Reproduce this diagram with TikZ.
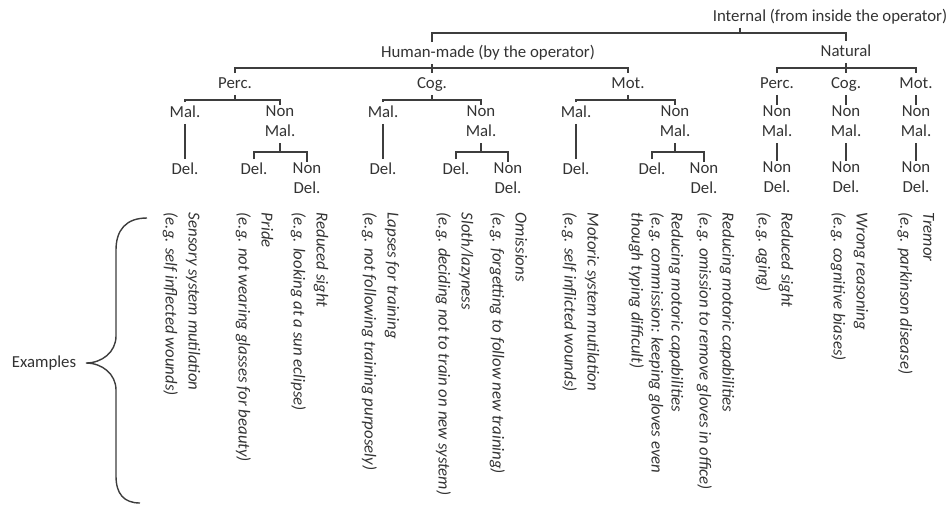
\documentclass[tikz,border=0pt]{standalone}
\usepackage{fontspec}
\setmainfont{Carlito}
\usepackage{tikz}

\definecolor{inkgray}{HTML}{333333}
\definecolor{linegray}{HTML}{3d3d3d}
\newcommand{\treefont}{\fontsize{16.8}{20}\selectfont}
\newcommand{\egfont}{\fontsize{16.8}{23}\selectfont\itshape}

\tikzset{
    lbl/.style = {font=\treefont, text=inkgray, inner sep=0pt, align=center,
        execute at begin node=\strut, execute at end node=\strut},
    eg/.style = {font=\egfont, text=inkgray, inner sep=0pt, align=left,
        rotate=-90, anchor=north west, execute at begin node=\strut},
}

\begin{document}
\begin{tikzpicture}[x=1pt, y=-1pt, node distance = 57pt, line width=1.6pt, color=linegray]
    \useasboundingbox (0,0) rectangle (952,504);

    % top of the tree
    \node (internal) [lbl] at (830,17) {Internal (from inside the operator)};
    \node (human) [lbl] at (488,53) {Human-made (by the operator)};
    \node (natural) [lbl] at (846,52) {Natural};

    \node (perc1) [lbl] at (235,84) {Perc.};
    \node (cog1) [lbl] at (432,84) {Cog.};
    \node (mot1) [lbl] at (628,84) {Mot.};
    \node (perc2) [lbl] at (777,84) {Perc.};
    \node (cog2) [lbl] at (846,84) {Cog.};
    \node (mot2) [lbl] at (916,84) {Mot.};

    \node (mal1) [lbl] at (185,113) {Mal.};
    \node (nmal1) [lbl] at (280,124) {Non\\Mal.};
    \node (mal2) [lbl] at (383,113) {Mal.};
    \node (nmal2) [lbl] at (481,124) {Non\\Mal.};
    \node (mal3) [lbl] at (576,113) {Mal.};
    \node (nmal3) [lbl] at (675,124) {Non\\Mal.};
    \node (nmal4) [lbl] at (777,124) {Non\\Mal.};
    \node (nmal5) [lbl] at (846,124) {Non\\Mal.};
    \node (nmal6) [lbl] at (916,124) {Non\\Mal.};

    % leaves
    \node (del1) [lbl, below of = mal1] {Del.};
    \node (del2) [lbl] at (254,170) {Del.};
    \node (ndel1) [lbl] at (307,181) {Non\\Del.};
    \node (del3) [lbl, below of = mal2] {Del.};
    \node (del4) [lbl] at (456,170) {Del.};
    \node (ndel2) [lbl] at (508,181) {Non\\Del.};
    \node (del5) [lbl, below of = mal3] {Del.};
    \node (del6) [lbl] at (652,170) {Del.};
    \node (ndel3) [lbl] at (704,181) {Non\\Del.};
    \node (ndel4) [lbl] at (777,180) {Non\\Del.};
    \node (ndel5) [lbl] at (846,180) {Non\\Del.};
    \node (ndel6) [lbl] at (916,180) {Non\\Del.};

    % connectors
    \coordinate (top) at (740,33);
    \draw (internal.south -| top) -- (top);
    \draw (cog1 |- human.north) |- (top) -| (natural.north);
    \draw (human.south -| cog1) -- (cog1);
    \draw (perc1.north) -- ++(0,-5) -| (mot1.north);
    \draw (natural) -- (cog2);
    \draw (perc2.north) -- ++(0,-5) -| (mot2.north);

    \draw (perc1.south) -- ++(0,5) coordinate (f1);
    \draw (mal1.north) |- (f1) -| (nmal1.north);
    \draw (cog1.south) -- ++(0,5) coordinate (f2);
    \draw (mal2.north) |- (f2) -| (nmal2.north);
    \draw (mot1.south) -- ++(0,5) coordinate (f3);
    \draw (mal3.north) |- (f3) -| (nmal3.north);

    \draw (mal1) -- (del1);
    \draw (mal2) -- (del3);
    \draw (mal3) -- (del5);
    \draw (nmal1.south) -- ++(0,9) coordinate (g1);
    \draw (del2.north) |- (g1) -| (ndel1.north);
    \draw (nmal2.south) -- ++(0,9) coordinate (g2);
    \draw (del4.north) |- (g2) -| (ndel2.north);
    \draw (nmal3.south) -- ++(0,9) coordinate (g3);
    \draw (del6.north) |- (g3) -| (ndel3.north);

    \draw (perc2) -- (nmal4);
    \draw (cog2) -- (nmal5);
    \draw (mot2) -- (nmal6);
    \draw (nmal4) -- (ndel4);
    \draw (nmal5) -- (ndel5);
    \draw (nmal6) -- (ndel6);

    % examples
    \node (eg1) [eg] at (201,212) {Sensory system mutilation\\(e.g. self inflected wounds)};
    \node (eg2) [eg] at (274,212) {Pride\\(e.g. not wearing glasses for beauty)};
    \node (eg3) [eg] at (329,212) {Reduced sight\\(e.g. looking at a sun eclipse)};
    \node (eg4) [eg] at (400,212) {Lapses for training\\(e.g. not following training purposely)};
    \node (eg5) [eg] at (474,212) {Sloth/lazyness\\(e.g. deciding not to train on new system)};
    \node (eg6) [eg] at (528,212) {Omissions\\(e.g. forgetting to follow new training)};
    \node (eg7) [eg] at (600,212) {Motoric system mutilation\\(e.g. self inflicted wounds)};
    \node (eg8) [eg] at (684,212) {Reducing motoric capabilities\\[-3pt](e.g. commission: keeping gloves even\\[-3pt]though typing difficult)};
    \node (eg9) [eg] at (735,212) {Reducing motoric capabilities\\(e.g. omission to remove gloves in office)};
    \node (eg10) [eg] at (794,212) {Reduced sight\\(e.g. aging)};
    \node (eg11) [eg] at (869,212) {Wrong reasoning\\(e.g. cognitive biases)};
    \node (eg12) [eg] at (935,212) {Tremor\\(e.g. parkinson disease)};

    % brace
    \node (examples) [lbl] at (44,363) {Examples};
    \coordinate (bt) at (147,218);
    \coordinate (bb) at (140,503);
    \coordinate (tip) at (86,363);
    \draw[line width=1.4pt] (bt) .. controls (126,218) and (116,230) .. (116,250) -- (116,336)
        .. controls (116,352) and (102,363) .. (tip)
        .. controls (102,363) and (116,374) .. (116,390) -- (116,476)
        .. controls (116,494) and (124,503) .. (bb);
\end{tikzpicture}
\end{document}
